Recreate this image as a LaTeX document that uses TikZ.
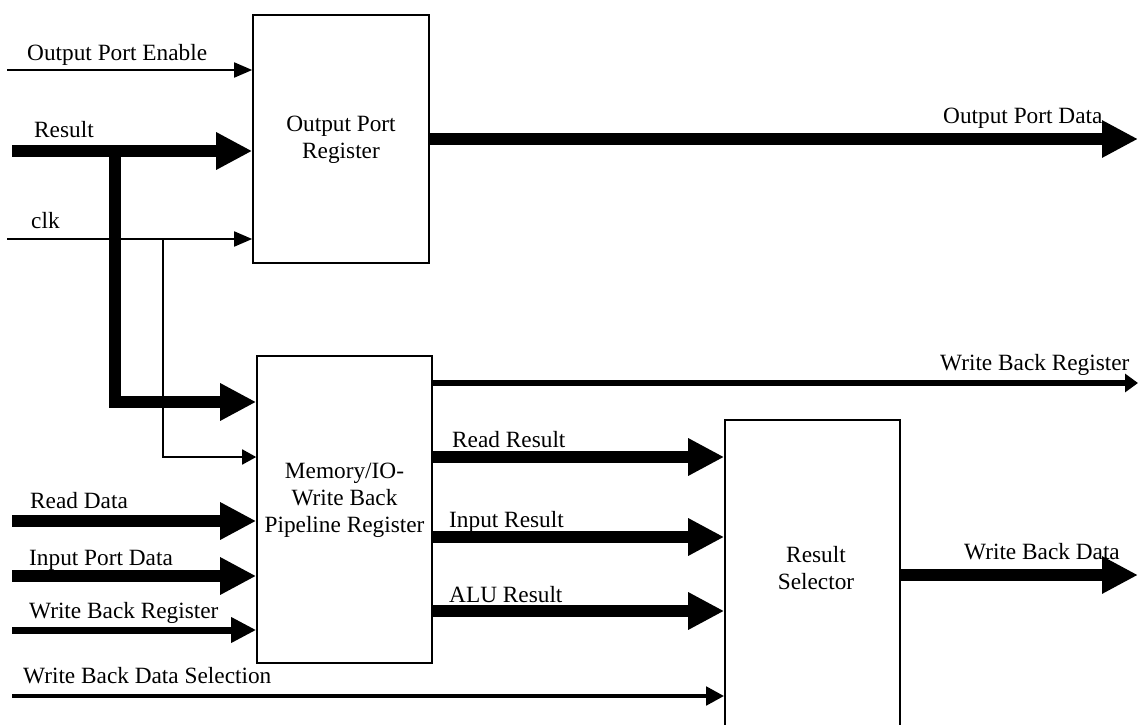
\documentclass[tikz,border=0pt]{standalone}
\usepackage{fontspec}
\setmainfont{Liberation Serif}
\usetikzlibrary{arrows.meta}
\newcommand{\lblfont}{\fontsize{23.3}{27.2}\selectfont}
\tikzset{
  box/.style={draw, line width=1.6pt, rectangle, inner sep=0pt},
  txt/.style={font=\lblfont, inner sep=0pt, align=center},
  lbl/.style={font=\lblfont, inner sep=0pt, anchor=base west},
  thinarrow/.style={line width=1.8pt, -{Triangle[length=18pt,width=15pt]}},
  bus/.style={line width=12pt, -{Triangle[length=36pt,width=35pt]}},
  medbus/.style={line width=7pt, -{Triangle[length=25pt,width=24pt]}},
  wbrbus/.style={line width=6.5pt, -{Triangle[length=13pt,width=18pt]}},
  selbus/.style={line width=4.5pt, -{Triangle[length=18pt,width=18pt]}},
  branchbus/.style={line width=12pt, line join=miter, -{Triangle[length=36pt,width=35pt]}},
  branchthin/.style={line width=1.8pt, -{Triangle[length=14pt,width=15pt]}}
}
\begin{document}
\begin{tikzpicture}[x=1pt,y=-1pt]
\useasboundingbox (0,0) rectangle (1138,725);
\clip (0,0) rectangle (1138,725);
\fill[white] (0,0) rectangle (1138,725);

% blocks
\node[box, minimum width=176pt, minimum height=248pt] (opr) at (341,139) {};
\node[txt] (oprtxt) at (341,140) {Output Port\\Register};
\node[box, minimum width=175pt, minimum height=307pt] (mem) at (344.5,509.5) {};
\node[txt] (memtxt) at (344.5,500) {Memory/IO-\\Write Back\\Pipeline Register};
\node[box, minimum width=175pt, minimum height=340pt] (rs) at (812.5,590) {};
\node[txt] (rstxt) at (816,568) {Result\\Selector};

% free ends
\coordinate (opein) at (7,70);
\coordinate (resin) at (12,151);
\coordinate (clkin) at (7,239);
\coordinate (rbr) at (115,151);
\coordinate (rbrlow) at (115,402);
\coordinate (cbr) at (163,239);
\coordinate (cbrlow) at (163,457);
\coordinate (rdin) at (12,521);
\coordinate (ipin) at (12,576);
\coordinate (wbrin) at (12,630);
\coordinate (wbdsin) at (12,696);
\coordinate (opdout) at (1138,139);
\coordinate (wbrout) at (1138,383);
\coordinate (wbdout) at (1138,575);
\coordinate (rr) at (600,457);
\coordinate (ir) at (600,537);
\coordinate (ar) at (600,611);

% left inputs
\draw[thinarrow] (opein) -- (opein -| opr.west);
\draw[bus] (resin) -- (resin -| opr.west);
\draw[thinarrow] (clkin) -- (clkin -| opr.west);
\draw[branchbus] ([yshift=-6pt]rbr) -- (rbrlow) -- (rbrlow -| mem.west);
\draw[branchthin] (cbr) -- (cbrlow) -- (cbrlow -| mem.west);
\draw[bus] (rdin) -- (rdin -| mem.west);
\draw[bus] (ipin) -- (ipin -| mem.west);
\draw[medbus] (wbrin) -- (wbrin -| mem.west);
\draw[selbus] (wbdsin) -- (wbdsin -| rs.west);

% outputs
\draw[bus] (opdout -| opr.east) -- (opdout);
\draw[wbrbus] (wbrout -| mem.east) -- (wbrout);
\draw[bus] (rr -| mem.east) -- (rr -| rs.west);
\draw[bus] (ir -| mem.east) -- (ir -| rs.west);
\draw[bus] (ar -| mem.east) -- (ar -| rs.west);
\draw[bus] (wbdout -| rs.east) -- (wbdout);

% labels
\node[lbl] (l1) at (27,60) {Output Port Enable};
\node[lbl] (l2) at (34,137) {Result};
\node[lbl] (l3) at (31,228) {clk};
\node[lbl] (l4) at (30,508) {Read Data};
\node[lbl] (l5) at (29,565) {Input Port Data};
\node[lbl] (l6) at (29,618) {Write Back Register};
\node[lbl] (l7) at (23,683) {Write Back Data Selection};
\node[lbl] (l8) at (943,123) {Output Port Data};
\node[lbl] (l9) at (940,370) {Write Back Register};
\node[lbl] (l10) at (452,447) {Read Result};
\node[lbl] (l11) at (449,527) {Input Result};
\node[lbl] (l12) at (449,602) {ALU Result};
\node[lbl] (l13) at (964,559) {Write Back Data};
\end{tikzpicture}
\end{document}
